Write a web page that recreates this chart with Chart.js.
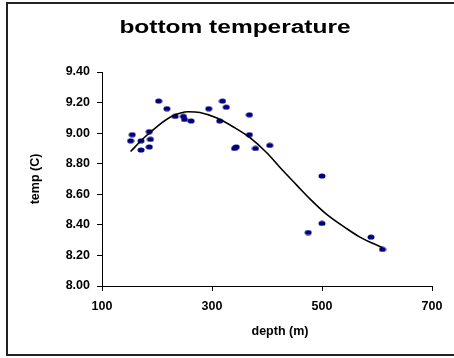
<!DOCTYPE html>
<html>
<head>
<meta charset="utf-8">
<script src="https://cdn.jsdelivr.net/npm/chart.js@4/dist/chart.umd.min.js"></script>
<style>
  html, body { margin: 0; padding: 0; background: #fff; overflow: hidden; }
  #wrap { position: absolute; left: 0; top: 0; width: 462px; height: 358px; }
</style>
</head>
<body>
<div id="wrap"><canvas id="tempChart" width="462" height="358" style="width:462px;height:358px"></canvas></div>
<script>
// measured samples: depth (m) and bottom temperature (C)
const depth = [152, 155, 171, 171, 186, 188, 186, 203, 218, 233, 248, 250, 262, 294,
               314, 319, 326, 341, 344, 368, 368, 379, 405, 475, 500, 500, 589, 610];
const temp = [8.95, 8.99, 8.95, 8.89, 9.01, 8.96, 8.91, 9.21, 9.16, 9.11, 9.11, 9.09, 9.08, 9.16,
              9.08, 9.21, 9.17, 8.90, 8.91, 9.12, 8.99, 8.90, 8.92, 8.35, 8.72, 8.41, 8.32, 8.24];

// trend line
const trendDepth = [152, 175, 199, 227, 257, 278, 308, 339, 369, 400, 425, 454, 478, 508, 545, 569, 610];
const trendTemp = [8.88, 8.965, 9.04, 9.11, 9.14, 9.135, 9.10, 9.04, 8.97, 8.87, 8.77, 8.66, 8.57, 8.47, 8.375, 8.32, 8.25];

const xTicks = [100, 300, 500, 700];
const yTicks = [8.0, 8.2, 8.4, 8.6, 8.8, 9.0, 9.2, 9.4];

const chartTitle = 'bottom temperature';
const xTitle = 'depth (m)';
const yTitle = 'temp (C)';

// slightly flattened marker like the original
const dot = document.createElement('canvas');
dot.width = 8; dot.height = 6;
const dctx = dot.getContext('2d');
dctx.fillStyle = '#000080';
dctx.beginPath();
dctx.ellipse(4, 3, 3.5, 2.6, 0, 0, Math.PI * 2);
dctx.fill();

const fontFam = 'Liberation Sans, Arial, sans-serif';

// outer frame, stretched title and the off-centre x title
const frame = {
  id: 'frame',
  afterDraw(chart) {
    const c = chart.ctx;
    c.save();
    c.strokeStyle = '#222';
    c.lineWidth = 2;
    c.strokeRect(7, 3, 520, 352);

    c.fillStyle = '#000';
    c.textAlign = 'center';
    c.textBaseline = 'middle';
    c.font = 'bold 18px ' + fontFam;
    c.save();
    c.translate(235, 28);
    c.scale(1.36, 1);
    c.fillText(chartTitle, 0, 0);
    c.restore();

    c.font = 'bold 12.5px ' + fontFam;
    c.fillText(xTitle, 280, 332);
    c.restore();
  }
};

const lbl = { family: fontFam, weight: 'bold', size: 12.5 };

new Chart(document.getElementById('tempChart'), {
  type: 'scatter',
  data: {
    datasets: [{
      label: 'temp',
      data: depth.map((d, i) => ({ x: d, y: temp[i] })),
      pointStyle: dot,
      pointRadius: 4,
      showLine: false,
      order: 2
    }, {
      label: 'trend',
      data: trendDepth.map((d, i) => ({ x: d, y: trendTemp[i] })),
      showLine: true,
      borderColor: '#000',
      borderWidth: 1.6,
      pointRadius: 0,
      cubicInterpolationMode: 'monotone',
      fill: false,
      order: 1
    }]
  },
  options: {
    responsive: false,
    animation: false,
    layout: { padding: { left: 8, right: 30, top: 72, bottom: 0 } },
    plugins: {
      legend: { display: false },
      tooltip: { enabled: false },
      title: { display: false }
    },
    scales: {
      x: {
        type: 'linear',
        min: 100, max: 700,
        afterBuildTicks: s => { s.ticks = xTicks.map(v => ({ value: v })); },
        afterFit: s => { s.height = 72; },
        ticks: { color: '#000', font: lbl, padding: 8, maxRotation: 0 },
        grid: { display: true, drawOnChartArea: false, drawTicks: true, tickLength: 5, color: '#000' },
        border: { display: true, color: '#000', width: 1 },
        title: { display: false }
      },
      y: {
        type: 'linear',
        min: 8.0, max: 9.4,
        afterBuildTicks: s => { s.ticks = yTicks.map(v => ({ value: v })); },
        afterFit: s => { s.width = 94; },
        ticks: { color: '#000', font: lbl, padding: 7, callback: v => v.toFixed(2) },
        grid: { display: true, drawOnChartArea: false, drawTicks: true, tickLength: 5, color: '#000' },
        border: { display: true, color: '#000', width: 1 },
        title: { display: true, text: yTitle, color: '#000', font: lbl, padding: { top: 20, bottom: 0 } }
      }
    }
  },
  plugins: [frame]
});
</script>
</body>
</html>
